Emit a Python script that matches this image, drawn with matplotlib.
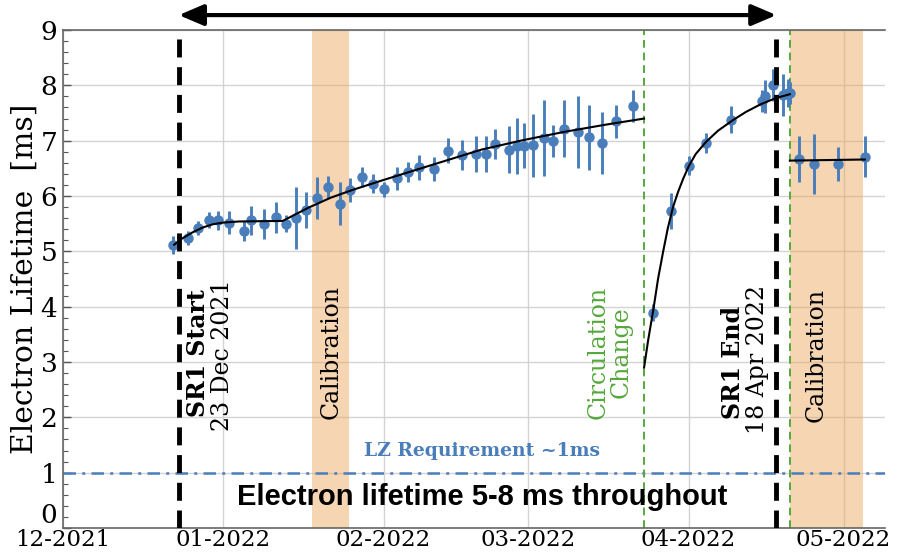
import matplotlib
matplotlib.use("Agg")
import matplotlib.pyplot as plt
import matplotlib.dates as mdates
from matplotlib.ticker import MultipleLocator
import numpy as np
from datetime import datetime

# ---------------- data (days since 2021-12-01) ----------------
START = datetime(2021, 12, 1)

days_a = [21.2, 24.1, 26.1, 28.2, 30.0, 32.2, 35.1, 36.4, 38.9, 41.2, 43.1, 45.1,
          47.1, 49.1, 51.2, 53.6, 55.6, 57.8, 60.0, 62.1, 64.7, 66.8, 68.8, 71.8,
          74.5, 77.2, 79.9, 81.8, 83.6, 86.2, 87.8, 89.2, 90.9, 93.1, 94.7, 97.0,
          99.7, 101.8, 104.2, 107.0, 110.3]
vals_a = [5.12, 5.24, 5.42, 5.57, 5.56, 5.52, 5.37, 5.56, 5.50, 5.62, 5.50, 5.61,
          5.75, 5.97, 6.16, 5.86, 6.11, 6.35, 6.22, 6.12, 6.32, 6.44, 6.52, 6.49,
          6.82, 6.74, 6.76, 6.76, 6.94, 6.84, 6.90, 6.91, 6.92, 7.05, 7.00, 7.22,
          7.16, 7.06, 6.96, 7.35, 7.62]
errs_a = [0.16, 0.12, 0.12, 0.14, 0.17, 0.21, 0.18, 0.26, 0.27, 0.28, 0.15, 0.56,
          0.33, 0.38, 0.20, 0.39, 0.21, 0.18, 0.17, 0.14, 0.21, 0.18, 0.23, 0.21,
          0.23, 0.27, 0.33, 0.33, 0.27, 0.42, 0.51, 0.41, 0.57, 0.69, 0.29, 0.51,
          0.65, 0.59, 0.56, 0.30, 0.29]

days_b = [114.1, 117.6, 121.0, 124.4, 129.3, 135.3, 135.8, 137.3, 139.2, 140.2, 140.6]
vals_b = [3.89, 5.73, 6.55, 6.96, 7.38, 7.71, 7.80, 8.01, 7.83, 7.86, 7.86]
errs_b = [0.15, 0.33, 0.17, 0.18, 0.24, 0.20, 0.30, 0.29, 0.38, 0.25, 0.20]

days_c = [142.4, 145.3, 149.9, 155.1]
vals_c = [6.67, 6.58, 6.58, 6.71]
errs_c = [0.41, 0.54, 0.30, 0.37]

fit1_days = [21.5, 23, 25, 27, 29, 31, 34, 38, 42.5, 45, 47.5, 51.8, 56, 62, 72, 81, 89, 97, 105, 112.4]
fit1_vals = [5.12, 5.23, 5.34, 5.43, 5.49, 5.52, 5.54, 5.545, 5.55, 5.67, 5.79, 5.97, 6.11, 6.29,
             6.58, 6.84, 7.01, 7.16, 7.29, 7.40]
fit2_days = [112.4, 113.2, 114.2, 115.1, 116.1, 117.0, 118.0, 119.0, 120.0, 121.1, 122.4,
             124.4, 126.7, 129.4, 132.1, 135.0, 137.9, 140.6]
fit2_vals = [2.90, 3.40, 3.95, 4.50, 5.00, 5.42, 5.80, 6.08, 6.32, 6.55, 6.76, 6.98,
             7.18, 7.36, 7.52, 7.66, 7.77, 7.84]
fit3_days = [140.6, 155.1]
fit3_vals = [6.64, 6.66]

sr1_start_day = 22.4
sr1_end_day = 138.0
circ_day = 112.4
circ2_day = 140.6
cal_bands = [(48.2, 55.3), (140.6, 154.8)]
lz_req = 1.0

y_ticks = [0, 1, 2, 3, 4, 5, 6, 7, 8, 9]
month_ticks = [datetime(2021, 12, 1), datetime(2022, 1, 1), datetime(2022, 2, 1),
               datetime(2022, 3, 1), datetime(2022, 4, 1), datetime(2022, 5, 1)]

# ---------------- plotting ----------------
plt.rcParams['font.family'] = ['DejaVu Serif']
base = mdates.date2num(START)


def X(d):
    return base + np.asarray(d, dtype=float)


BLUE = '#4a7ebb'
GREEN = '#55a83c'

fig = plt.figure(figsize=(9.06, 5.54), dpi=100)
ax = fig.add_axes([0.0695, 0.0469, 0.9073, 0.8989])

ax.set_xlim(X(0), X(159))
ax.set_ylim(0, 9)

for a, b in cal_bands:
    ax.axvspan(X(a), X(b), color='#e9a254', alpha=0.45, lw=0, zorder=1)

ax.axhline(lz_req, color=BLUE, lw=1.8, ls=(0, (5, 2.5, 1.2, 2.5)), zorder=2)

ax.axvline(X(circ_day), color=GREEN, lw=1.4, ls=(0, (4, 2.5)), zorder=2)
ax.axvline(X(circ2_day), color=GREEN, lw=1.4, ls=(0, (4, 2.5)), zorder=2)

ekw = dict(fmt='o', color=BLUE, ms=6.5, elinewidth=2.1, capsize=0, zorder=3)
ax.errorbar(X(days_a), vals_a, yerr=errs_a, **ekw)
ax.errorbar(X(days_b), vals_b, yerr=errs_b, **ekw)
ax.errorbar(X(days_c), vals_c, yerr=errs_c, **ekw)

ax.plot(X(fit1_days), fit1_vals, color='black', lw=1.5, zorder=4)
ax.plot(X(fit2_days), fit2_vals, color='black', lw=1.5, zorder=4)
ax.plot(X(fit3_days), fit3_vals, color='black', lw=1.5, zorder=4)

ax.axvline(X(sr1_start_day), color='black', lw=3.5, ls=(0, (3.7, 2.0)), zorder=5)
ax.axvline(X(sr1_end_day), color='black', lw=3.5, ls=(0, (3.7, 2.0)), zorder=5)

# double arrow above the axes
ax.annotate('', xy=(X(sr1_end_day), 9.27), xytext=(X(sr1_start_day), 9.27),
            xycoords='data', textcoords='data', annotation_clip=False,
            arrowprops=dict(arrowstyle='<|-|>,head_length=0.75,head_width=0.32',
                            mutation_scale=20, lw=3, color='black',
                            shrinkA=0, shrinkB=0))

# texts
ax.text(X(26.1), 3.16, 'SR1 Start', rotation=90, ha='center', va='center',
        fontsize=17, fontweight='bold')
ax.text(X(30.8), 3.13, '23 Dec 2021', rotation=90, ha='center', va='center', fontsize=17)
ax.text(X(51.8), 3.18, 'Calibration', rotation=90, ha='center', va='center', fontsize=17)
ax.text(X(105.8), 3.18, 'Circulation\nChange', rotation=90, ha='center', va='center',
        fontsize=17, color=GREEN, linespacing=1.0)
ax.text(X(129.6), 3.0, 'SR1 End', rotation=90, ha='center', va='center',
        fontsize=17, fontweight='bold')
ax.text(X(134.4), 3.04, '18 Apr 2022', rotation=90, ha='center', va='center', fontsize=17)
ax.text(X(145.6), 3.13, 'Calibration', rotation=90, ha='center', va='center', fontsize=17)
ax.text(X(81.0), 1.30, 'LZ Requirement ~1ms', ha='center', va='baseline',
        fontsize=13.5, fontweight='bold', color=BLUE)
ax.text(X(81.0), 0.42, 'Electron lifetime 5-8 ms throughout', ha='center', va='baseline',
        fontsize=21, fontweight='bold', family=['Liberation Sans', 'DejaVu Sans'],
        color='black', zorder=6)

# axes formatting
ax.tick_params(axis='y', which='major', direction='in', length=6, width=1, labelsize=19,
               pad=4, color='#555555')
ax.tick_params(axis='y', which='minor', direction='in', length=3.5, width=0.8, color='#555555')
ax.tick_params(axis='x', which='major', direction='in', length=0, labelsize=16.5, pad=1)
ax.set_xticks(mdates.date2num(month_ticks))
ax.xaxis.set_major_formatter(mdates.DateFormatter('%m-%Y'))
ax.set_yticks(y_ticks)
ax.yaxis.set_minor_locator(MultipleLocator(0.2))
# the reference shows the "0" label raised just above the first date label
ax.yaxis.get_major_ticks()[0].label1.set_va('bottom')
ax.grid(True, which='major', color='#d4d4d4', lw=1.0, zorder=0)
ax.set_axisbelow(True)
for s in ['left', 'bottom', 'top']:
    ax.spines[s].set_color('#666666')
    ax.spines[s].set_linewidth(1.2)
ax.spines['right'].set_visible(False)
ax.set_ylabel('Electron Lifetime  [ms]', fontsize=21.5, labelpad=1)

fig.savefig('out.png', dpi=100)
